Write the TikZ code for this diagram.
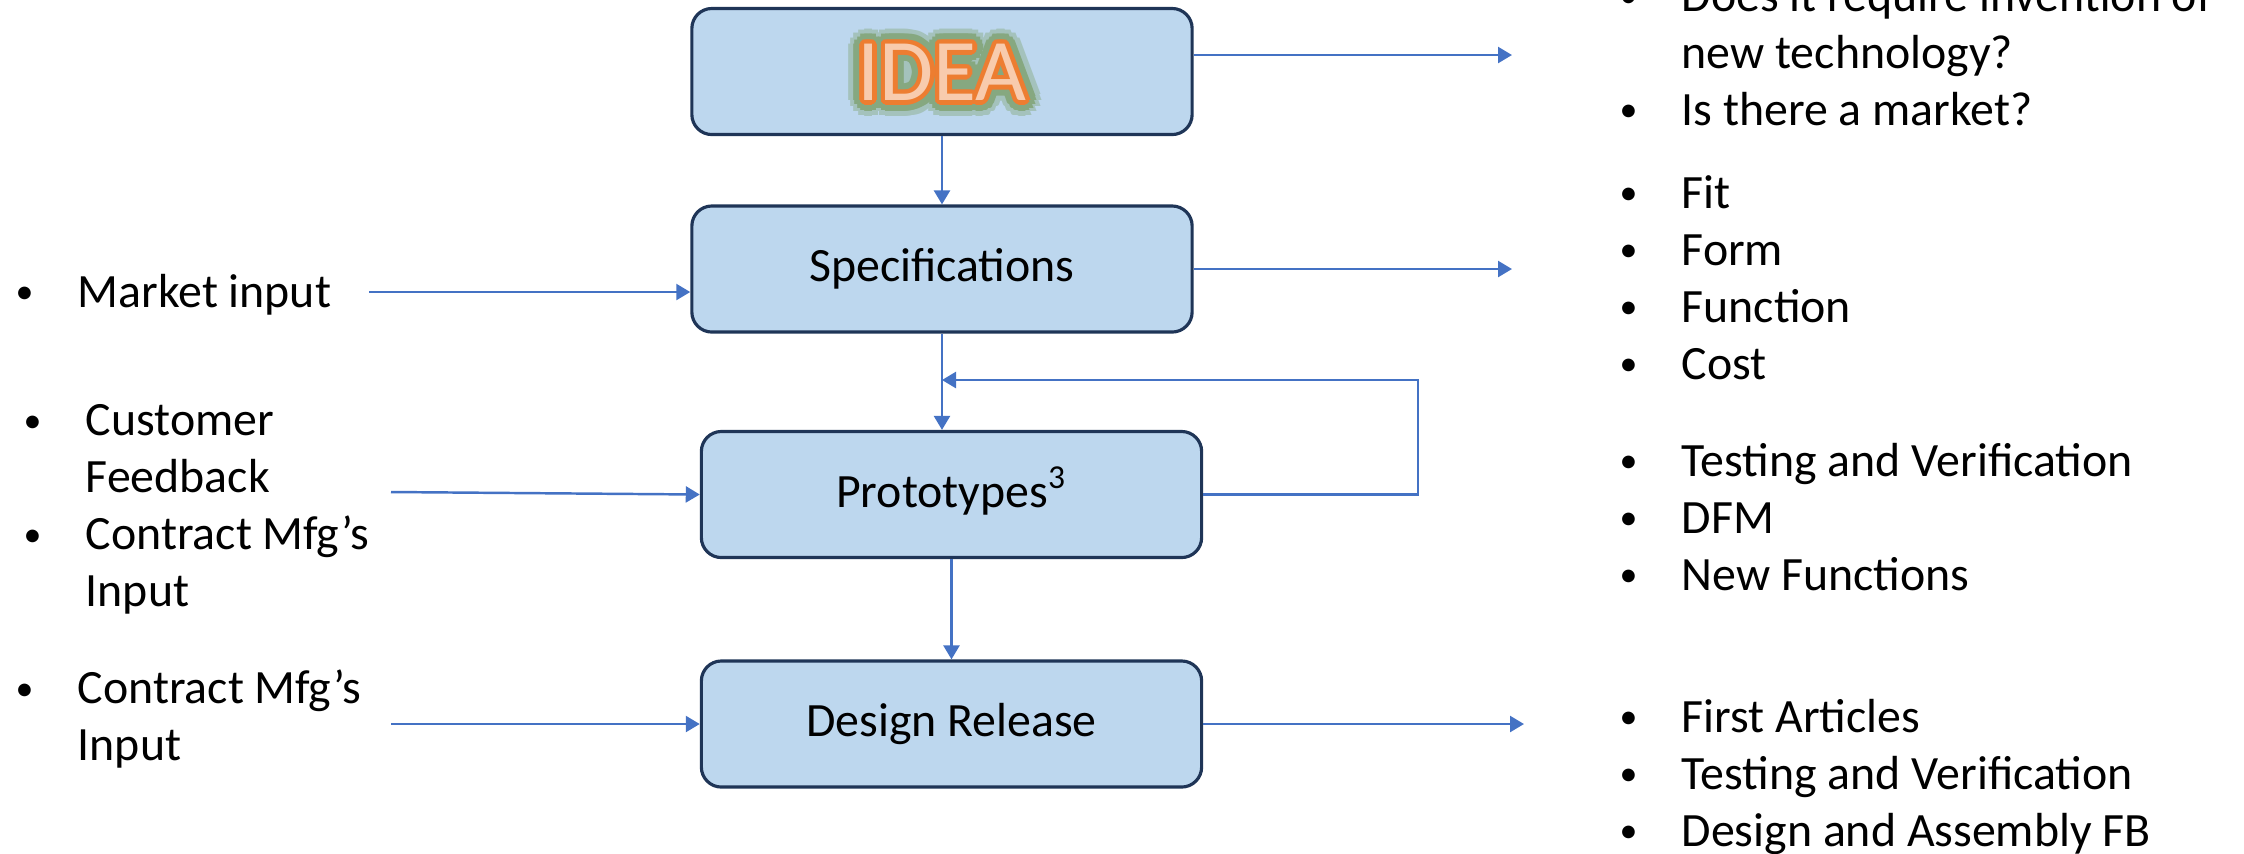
\documentclass[tikz,border=0pt]{standalone}
\usepackage{fontspec}
\setmainfont{Carlito}
\usepackage{contour}
\usetikzlibrary{arrows.meta}

\definecolor{boxfill}{HTML}{BDD7EE}
\definecolor{boxline}{HTML}{1F3557}
\definecolor{arrowblue}{HTML}{4472C4}
\definecolor{ideaorange}{HTML}{ED7D31}
\definecolor{idealight}{HTML}{F8CBAD}
\definecolor{ideaglow}{HTML}{86A880}

\newcommand{\ideaword}{{\fontsize{25}{30}\selectfont
  \rlap{\contourlength{4.4pt}\contour{ideaglow!45!boxfill}{IDEA}}%
  \rlap{\contourlength{3pt}\contour{ideaglow}{IDEA}}%
  \contourlength{1.3pt}\contour{ideaorange}{\textcolor{idealight}{IDEA}}}}
\newcommand{\dotmark}{\hspace{0.03cm}\raisebox{0.08em}{\scalebox{0.75}{\textbullet}}}
\newenvironment{pts}{\begin{tabular}{@{}p{0.65cm}@{}l@{}}}{\end{tabular}}

\begin{document}
\begin{tikzpicture}[
  x=0.01cm, y=-0.01cm,
  font=\fontsize{13.6}{16.2}\selectfont,
  stage/.style={draw=boxline, line width=0.9pt, fill=boxfill, rounded corners=0.2cm,
    minimum width=5cm, minimum height=1.26cm, text height=0.95em, text depth=0.22em},
  notes/.style={anchor=west, inner sep=0pt},
  flow/.style={draw=arrowblue, line width=0.7pt, -{Triangle[width=0.16cm,length=0.14cm]}}]
\useasboundingbox (0,0) rectangle (2244,853);

\node[stage, text height=22pt, text depth=5.4pt] (idea) at (942,71.5) {\ideaword};
\node[stage] (spec) at (942,269) {Specifications};
\node[stage] (proto) at (951.5,494.5) {Prototypes\textsuperscript{3}};
\node[stage] (rel) at (951.5,724) {Design Release};

\node[notes] (ask) at (1616,57) {\begin{pts}
  \dotmark & Does it require invention of\\
  & new technology?\\
  \dotmark & Is there a market?
\end{pts}};
\node[notes] (fff) at (1616,282.5) {\begin{pts}
  \dotmark & Fit\\
  \dotmark & Form\\
  \dotmark & Function\\
  \dotmark & Cost
\end{pts}};
\node[notes] (tvd) at (1616,522) {\begin{pts}
  \dotmark & Testing and Verification\\
  \dotmark & DFM\\
  \dotmark & New Functions
\end{pts}};
\node[notes] (fat) at (1616,778) {\begin{pts}
  \dotmark & First Articles\\
  \dotmark & Testing and Verification\\
  \dotmark & Design and Assembly FB
\end{pts}};

\node[notes] (mkt) at (12,296) {\begin{pts}
  \dotmark & Market input
\end{pts}};
\node[notes] (cust) at (20,510) {\begin{pts}
  \dotmark & Customer\\
  & Feedback\\
  \dotmark & Contract Mfg’s\\
  & Input
\end{pts}};
\node[notes] (cmfg) at (12,721) {\begin{pts}
  \dotmark & Contract Mfg’s\\
  & Input
\end{pts}};

\coordinate (ideaout) at (1512,55);
\coordinate (specout) at (1512,269);
\coordinate (relout) at (1524,724);
\coordinate (mktin) at (369,292);
\coordinate (cfin) at (391,492);
\coordinate (cmin) at (391,724);
\coordinate (loop) at (1418,380);

\draw[flow] (idea.south) -- (spec.north);
\draw[flow] (spec.south) -- (spec.south |- proto.north);
\draw[flow] (proto.south) -- (rel.north);
\draw[flow] (proto.east) -| (loop) -- (spec.south |- loop);

\draw[flow] (idea.east |- ideaout) -- (ideaout);
\draw[flow] (spec.east) -- (specout);
\draw[flow] (rel.east) -- (relout);

\draw[flow] (mktin) -- (mktin -| spec.west);
\draw[flow] (cfin) -- (proto.west);
\draw[flow] (cmin) -- (rel.west);
\end{tikzpicture}
\end{document}
